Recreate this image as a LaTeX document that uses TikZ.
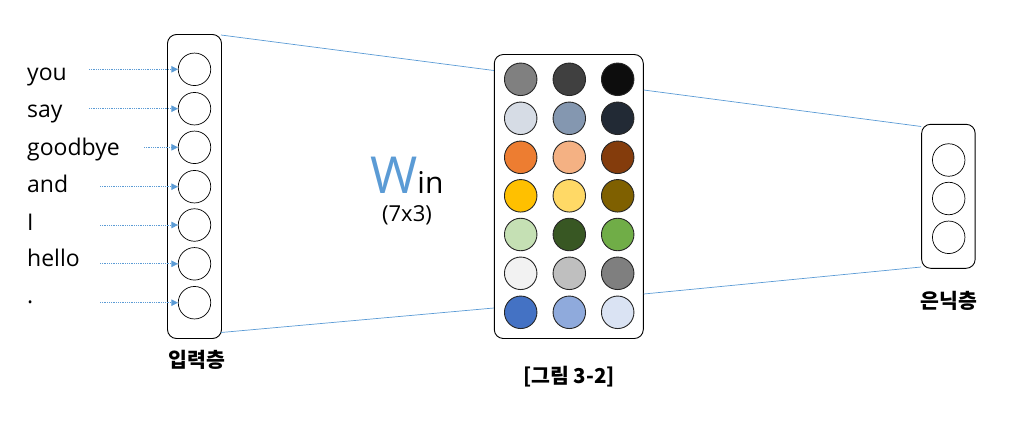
\documentclass[tikz,border=0pt]{standalone}
\usepackage{fontspec}
\setmainfont{Open Sans}
\newfontfamily\kr{Noto Sans CJK KR}
\usetikzlibrary{arrows.meta}
\definecolor{lblue}{HTML}{5B9BD5}
\begin{document}
\begin{tikzpicture}[x=1pt,y=-1pt,
  unit/.style={circle,draw=black,line width=0.7pt,minimum size=32.5pt,inner sep=0pt},
  cunit/.style={unit,draw=black!85,line width=0.9pt,fill=#1},
  layer/.style={draw=black,line width=0.9pt,rounded corners=9pt},
  word/.style={anchor=base west,font=\fontsize{23}{23}\selectfont,inner sep=0pt},
  inarrow/.style={draw=lblue,densely dotted,line width=0.8pt,-{Triangle[length=6.5pt,width=6.5pt]}},
  wire/.style={draw=lblue,line width=0.7pt},
  klabel/.style={font=\kr\bfseries\fontsize{20.5}{20.5}\selectfont}]
\useasboundingbox (0,0) rectangle (1013,421);
% input layer
\node[layer,minimum width=54pt,minimum height=304pt] (inbox) at (194.5,186.5) {};
\foreach \i/\y in {1/69.3,2/108.7,3/147.3,4/186.7,5/225,6/263.8,7/302.7}
  \node[unit] (in\i) at (194.5,\y) {};
% words
\node[word] (w1) at (27,80) {you};
\node[word] (w2) at (27,117.5) {say};
\node[word] (w3) at (27,155) {goodbye};
\node[word] (w4) at (27,192.5) {and};
\node[word] (w5) at (27,230) {I};
\node[word] (w6) at (27,266) {hello};
\node[word] (w7) at (27,303) {.};
\coordinate (s1) at (89,69.3);
\coordinate (s2) at (89,108.7);
\coordinate (s3) at (144,147.3);
\coordinate (s4) at (100,186.7);
\coordinate (s5) at (100,225);
\coordinate (s6) at (100,263.8);
\coordinate (s7) at (100,302.7);
\foreach \i in {1,...,7}
  \draw[inarrow] (s\i) -- (in\i.west);
\node[klabel] (inlabel) at (197,360) {입력층};
% weight matrix
\node[layer,minimum width=149pt,minimum height=284pt] (wbox) at (568.8,196.5) {};
\foreach \r/\y/\ca/\cb/\cc in {
  1/79.3/808080/404040/0D0D0D,
  2/118.3/D6DCE5/8497B0/222A35,
  3/157.3/ED7D31/F4B183/843C0C,
  4/195.8/FFC000/FFD966/7F6000,
  5/234.5/C5E0B4/385723/70AD47,
  6/273.3/F2F2F2/BFBFBF/7F7F7F,
  7/312.3/4472C4/8FAADC/DAE3F3}{
  \definecolor{ca}{HTML}{\ca}\definecolor{cb}{HTML}{\cb}\definecolor{cc}{HTML}{\cc}
  \node[cunit=ca] (m\r a) at (520.7,\y) {};
  \node[cunit=cb] (m\r b) at (569.3,\y) {};
  \node[cunit=cc] (m\r c) at (617.7,\y) {};
}
\node[klabel] (fig) at (569,377) {[그림 3-2]};
% Win label
\node[inner sep=0pt,anchor=base west] (win) at (370,193) {\textcolor{lblue}{\fontsize{51}{51}\selectfont W}{\fontsize{30}{30}\selectfont in}};
\node[inner sep=0pt,font=\fontsize{22}{22}\selectfont] (dim) at (407,215) {(7x3)};
% hidden layer
\node[layer,minimum width=53.5pt,minimum height=144pt] (hbox) at (948.4,196.3) {};
\foreach \i/\y in {1/160,2/198.5,3/237.3}
  \node[unit] (h\i) at (948.7,\y) {};
\node[klabel] (hlabel) at (949,301) {은닉층};
% connecting wires
\coordinate (a1) at (221,35);
\coordinate (a2) at (221,332.5);
\draw[wire] (a1) -- (wbox.west |- 0,70.5);
\draw[wire] (a2) -- (wbox.west |- 0,308);
\draw[wire] (wbox.east |- 0,90) -- (hbox.west |- 0,126.5);
\draw[wire] (wbox.east |- 0,294) -- (hbox.west |- 0,267);
\end{tikzpicture}
\end{document}
